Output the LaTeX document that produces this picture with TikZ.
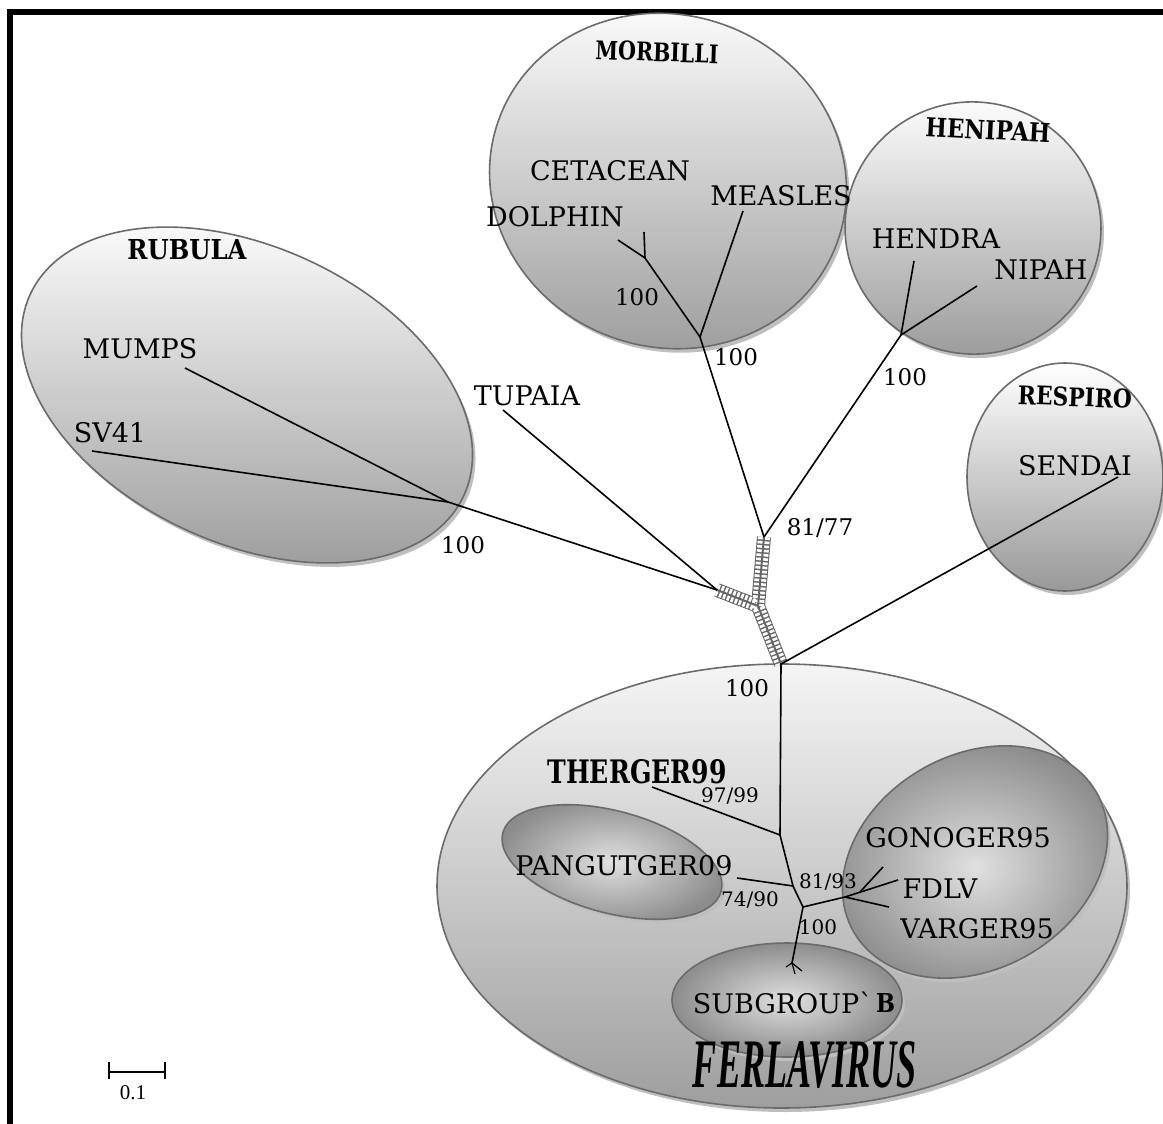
\documentclass[tikz,border=0pt]{standalone}
\usepackage{graphicx}
\usepackage{fontspec}
\setmainfont{DejaVu Serif}
\newfontfamily\ferfont{Liberation Serif}
\newfontfamily\headfont{DejaVu Serif}
\begin{document}
\begin{tikzpicture}[x=1pt,y=-1pt,
  lab/.style={inner sep=0pt, font=\fontsize{27}{30}\selectfont},
  num/.style={inner sep=0pt, font=\fontsize{23}{26}\selectfont},
  snum/.style={inner sep=0pt, font=\fontsize{20}{22}\selectfont},
  head/.style={inner sep=0pt},
  branch/.style={line width=1.6pt, black},
  clade/.style={draw=black!58, line width=1.6pt, top color=white, bottom color=black!40},
  shadowE/.style={fill=black!25},
  subc/.style={draw=black!58, line width=1.6pt, inner color=black!12, outer color=black!45},
  retg/.style={line width=14pt, black!60},
  retw/.style={line width=12pt, white, dash pattern=on 2.6pt off 1.6pt},
  retc/.style={line width=2pt, black!60}]
\useasboundingbox (0,0) rectangle (1163,1124);
% frame
\draw[line width=6pt] (10,1124) -- (10,12) -- (1163,12);
% clade ellipses
\fill[shadowE, rotate around={-25:(250,399)}] (250,399) ellipse (239 and 148);
\path[clade, rotate around={-25:(247,395)}] (247,395) ellipse (239 and 148);
\fill[shadowE, rotate around={-20:(671,185)}] (671,185) ellipse (180 and 166);
\path[clade, rotate around={-20:(668,181)}] (668,181) ellipse (180 and 166);
\fill[shadowE, rotate around={-10:(976,232)}] (976,232) ellipse (128 and 126);
\path[clade, rotate around={-10:(973,228)}] (973,228) ellipse (128 and 126);
\fill[shadowE] (1068,481) ellipse (98 and 114);
\path[clade] (1065,477) ellipse (98 and 114);
\fill[shadowE] (785,890) ellipse (345 and 222);
\path[draw=black!58, line width=1.6pt, top color=black!4, bottom color=black!38] (782,886) ellipse (345 and 222);
\fill[shadowE, rotate around={-15:(615,866)}] (615,866) ellipse (113 and 51);
\path[subc, rotate around={-15:(612,862)}] (612,862) ellipse (113 and 51);
\fill[shadowE, rotate around={30:(978,866)}] (978,866) ellipse (140 and 107);
\path[subc, rotate around={30:(975,862)}] (975,862) ellipse (140 and 107);
\fill[shadowE] (790,1004) ellipse (115 and 57);
\path[subc] (787,1000) ellipse (115 and 57);
% tree coordinates
\coordinate (dolE) at (618,240);
\coordinate (cetE) at (644,232);
\coordinate (mA) at (645,258);
\coordinate (measE) at (743,211);
\coordinate (mB) at (700,337);
\coordinate (rT) at (764,537);
\coordinate (hendE) at (914,261);
\coordinate (nipE) at (977,286);
\coordinate (hA) at (901,335);
\coordinate (rM) at (758,606);
\coordinate (rL) at (717,590);
\coordinate (rB) at (781,664);
\coordinate (mumE) at (185,368);
\coordinate (svE) at (92,451);
\coordinate (rA) at (448,502);
\coordinate (tupE) at (503,410);
\coordinate (senE) at (1118,477);
\coordinate (fA) at (780,835);
\coordinate (therE) at (652,787);
\coordinate (fB) at (793,886);
\coordinate (pangE) at (737,878);
\coordinate (fC) at (803,907);
\coordinate (fD) at (845,897);
\coordinate (fD2) at (860,892);
\coordinate (gonE) at (883,867);
\coordinate (fdlE) at (898,880);
\coordinate (varE) at (889,907);
\coordinate (fE) at (792,963);
\coordinate (t1) at (786,967);
\coordinate (t2) at (802,971);
\coordinate (t3) at (795,974);
% reticulate band
\draw[retg] (rT) -- (rM) -- (rB);
\draw[retg] (rM) -- (rL);
\draw[retw] (rT) -- (rM) -- (rB);
\draw[retw] (rM) -- (rL);
\draw[retc] (rT) -- (rM) -- (rB);
\draw[retc] (rM) -- (rL);
% branches
\draw[branch] (dolE) -- (mA) -- (mB) -- (rT);
\draw[branch] (cetE) -- (mA);
\draw[branch] (measE) -- (mB);
\draw[branch] (hendE) -- (hA) -- (rT);
\draw[branch] (nipE) -- (hA);
\draw[branch] (mumE) -- (rA) -- (rL);
\draw[branch] (svE) -- (rA);
\draw[branch] (tupE) -- (rL);
\draw[branch] (senE) -- (rB) -- (fA);
\draw[branch] (therE) -- (fA) -- (fB) -- (fC) -- (fE);
\draw[branch] (pangE) -- (fB);
\draw[branch] (fC) -- (fD) -- (fdlE);
\draw[branch] (fD) -- (varE);
\draw[branch] (fD2) -- (gonE);
\draw[line width=1.2pt] (fE) -- (t1);
\draw[line width=1.2pt] (fE) -- (t2);
\draw[line width=1.2pt] (fE) -- (t3);
% clade headings
\node[head, rotate=-2] (hmorb) at (657,52) {\resizebox{123pt}{19pt}{\headfont\bfseries MORBILLI}};
\node[head, rotate=-3] (hheni) at (988,130) {\resizebox{125pt}{19pt}{\headfont\bfseries HENIPAH}};
\node[head] (hrubu) at (187,250) {\resizebox{119pt}{20pt}{\headfont\bfseries RUBULA}};
\node[head, rotate=-2] (hresp) at (1075,397) {\resizebox{114pt}{19pt}{\headfont\bfseries RESPIRO}};
% taxa
\node[lab] (cet) at (610,171) {CETACEAN};
\node[lab] (dol) at (555,217) {DOLPHIN};
\node[lab] (mea) at (781,196) {MEASLES};
\node[lab] (hen) at (936,239) {HENDRA};
\node[lab] (nip) at (1041,270) {NIPAH};
\node[lab] (mum) at (140,349) {MUMPS};
\node[lab] (sv) at (110,433) {SV41};
\node[lab] (tup) at (527,396) {TUPAIA};
\node[lab] (sen) at (1075,466) {SENDAI};
\node[head] (the) at (637,772) {\resizebox{179pt}{24pt}{\headfont\bfseries THERGER99}};
\node[lab] (pan) at (624,866) {PANGUTGER09};
\node[lab] (gon) at (958,838) {GONOGER95};
\node[lab] (fdl) at (940,889) {FDLV};
\node[lab] (var) at (977,929) {VARGER95};
\node[lab, anchor=east] (sub) at (873,1003) {SUBGROUPˋ};
\node[head, anchor=west] (subb) at (876,1003) {\resizebox{19pt}{19pt}{\headfont\bfseries B}};
\node[head] (ferl) at (805,1065) {\resizebox{224pt}{46pt}{\ferfont\bfseries\itshape FERLAVIRUS}};
% support values
\node[num] (s1) at (637,297) {100};
\node[num] (s2) at (736,357) {100};
\node[num] (s3) at (905,377) {100};
\node[num] (s4) at (463,545) {100};
\node[num] (s5) at (820,528) {81/77};
\node[num] (s6) at (747,688) {100};
\node[snum] (s7) at (730,796) {97/99};
\node[snum] (s8) at (828,882) {81/93};
\node[snum] (s9) at (750,900) {74/90};
\node[snum] (s10) at (818,927) {100};
% scale bar
\coordinate (sbL) at (109,1072);
\coordinate (sbR) at (165,1072);
\draw[line width=1.6pt] (sbL) -- (sbR);
\draw[line width=1.6pt] ([yshift=-7pt]sbL) -- ([yshift=10pt]sbL);
\draw[line width=1.6pt] ([yshift=-7pt]sbR) -- ([yshift=10pt]sbR);
\node[inner sep=0pt, font=\ferfont\fontsize{21}{23}\selectfont] (sbt) at (133,1093) {0.1};
\end{tikzpicture}
\end{document}
